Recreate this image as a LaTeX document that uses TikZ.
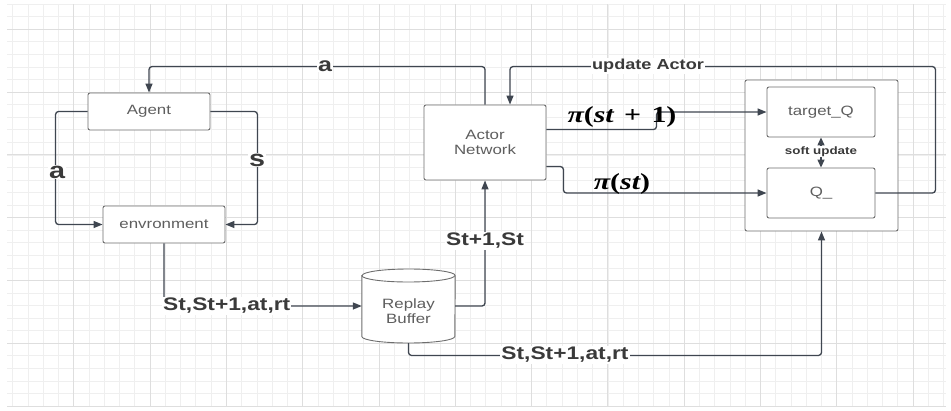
\documentclass[tikz,border=0pt]{standalone}
\usepackage{fontspec}
\setmainfont[FakeStretch=1.25]{Liberation Sans}
\newfontfamily\pifont[FakeStretch=1.3]{Liberation Serif}
\usetikzlibrary{arrows.meta,calc}
\definecolor{gridminor}{HTML}{EFEFEF}
\definecolor{gridmajor}{HTML}{DEDEDE}
\definecolor{boxc}{HTML}{6E6E6E}
\definecolor{txtc}{HTML}{5E5E5E}
\definecolor{linec}{HTML}{3F4650}
\definecolor{labc}{HTML}{3A3A3A}
\tikzset{
  box/.style={draw=boxc, line width=0.9pt, rounded corners=2pt, fill=white, text=txtc,
    font=\fontsize{13.5}{15}\selectfont, inner sep=0pt, align=center},
  conn/.style={draw=linec, line width=1.3pt, rounded corners=3pt, -{Triangle[length=9pt,width=7pt]}},
  lab/.style={text=labc, font=\bfseries\fontsize{18.2}{20}\selectfont, fill=white, inner sep=1pt},
  biglab/.style={text=labc, font=\bfseries\fontsize{23}{25}\selectfont, fill=white, inner sep=1pt},
  pilab/.style={text=black, font=\pifont\bfseries\itshape\fontsize{23}{25}\selectfont, inner sep=0pt},
}
\begin{document}
\begin{tikzpicture}[x=1pt,y=-1pt]
\useasboundingbox (0,0) rectangle (951,410);
\fill[white] (0,0) rectangle (951,410);
% grid
\begin{scope}
\clip (7,4) rectangle (946,407);
\foreach \k in {-4,...,57} {\draw[gridminor, line width=0.8pt] ({73.8+15.26*\k},4) -- ({73.8+15.26*\k},407);}
\foreach \k in {-2,...,30} {\draw[gridminor, line width=0.8pt] (7,{29.3+12.56*\k}) -- (946,{29.3+12.56*\k});}
\foreach \k in {0,...,11} {\draw[gridmajor, line width=1pt] ({73.8+76.3*\k},4) -- ({73.8+76.3*\k},407);}
\foreach \k in {0,...,6} {\draw[gridmajor, line width=1pt] (7,{29.3+62.8*\k}) -- (946,{29.3+62.8*\k});}
\end{scope}

% nodes
\node[box, minimum width=122pt, minimum height=37pt] (agent) at (149,111.5) {Agent};
\node[box, minimum width=122pt, minimum height=37pt] (env) at (164,224.5) {envronment};
\node[box, minimum width=122pt, minimum height=75pt] (actor) at (485,142.5) {Actor\\Network};
\node[box, minimum width=153pt, minimum height=151pt] (cont) at (821.5,155.5) {};
\node[box, minimum width=108pt, minimum height=50pt] (tq) at (821,112) {target\_Q};
\node[box, minimum width=108pt, minimum height=50pt] (q) at (821,193) {Q\_};
% replay buffer cylinder
\node[inner sep=0pt, minimum width=93pt, minimum height=74pt] (rb) at (408.5,306) {};
\draw[draw=boxc, line width=0.9pt, fill=white]
  ($(rb.west)+(0,-30.5)$) -- ($(rb.west)+(0,30.5)$)
  arc[start angle=180, end angle=360, x radius=46.5pt, y radius=6.5pt]
  -- ($(rb.east)+(0,-30.5)$)
  arc[start angle=0, end angle=180, x radius=46.5pt, y radius=6.5pt] -- cycle;
\draw[draw=boxc, line width=0.9pt] ($(rb.west)+(0,-30.5)$)
  arc[start angle=180, end angle=360, x radius=46.5pt, y radius=6.5pt];
\node[text=txtc, font=\fontsize{13.5}{15}\selectfont, align=center] at (408.5,311.5) {Replay\\Buffer};

% agent <-> environment
\draw[conn] (agent.west) -- ++(-32,0) |- (env.west);
\node[biglab] (la) at (57,172) {a};
\draw[conn] (agent.east) -- ++(47,0) |- (env.east);
\node[biglab] (ls) at (257,160) {s};

% environment -> replay buffer
\draw[conn] (env.south) |- (rb.west);
\node[lab, anchor=west] (l1) at ($(env.south |- rb.west)+(-2,0)$) {St,St+1,at,rt};

% replay buffer -> actor
\draw[conn] (rb.east) -| (actor.south);
\node[lab] (l2) at (485,241) {St+1,St};

% actor -> agent
\draw[conn] (actor.north) -- ++(0,-38) -| (agent.north);
\node[lab, font=\bfseries\fontsize{20}{22}\selectfont] (l3) at (325,66) {a};

% update actor
\coordinate (ua) at ($(actor.north)+(25,-38)$);
\draw[conn] (q.east) -- ++(60,0) |- (ua) -- (ua |- actor.north);
\node[lab, font=\bfseries\fontsize{14.5}{16}\selectfont] (l4) at (648,66) {update Actor};

% pi arrows
\draw[conn] ($(actor.north east)+(0,25)$) -- ++(110,0) |- (tq.west);
\node[pilab] (p1) at (622,117) {π\upshape(\itshape st\hspace{0.45em}\upshape+\hspace{0.45em}1)};
\draw[conn] ($(actor.north east)+(0,62)$) -- ++(17,0) |- (q.west);
\node[pilab] (p2) at (622,184) {π\upshape(\itshape st\upshape)};

% soft update
\draw[conn, {Triangle[length=8pt,width=7pt]}-{Triangle[length=8pt,width=7pt]}] (tq.south) -- (q.north);
\node[lab, font=\bfseries\fontsize{10.7}{12}\selectfont] (l5) at (821,151.5) {soft update};

% replay buffer -> critic container
\draw[conn] (rb.south) |- ($(cont.south)+(0,124)$) -- (cont.south);
\node[lab] (l6) at (565,355) {St,St+1,at,rt};
\end{tikzpicture}
\end{document}
